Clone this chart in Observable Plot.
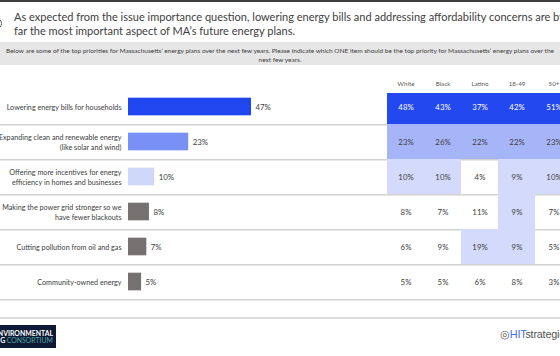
<!DOCTYPE html>
<html>
<head>
<meta charset="utf-8">
<script src="https://cdn.jsdelivr.net/npm/d3@7"></script>
<script src="https://cdn.jsdelivr.net/npm/@observablehq/plot@0.6"></script>
<style>
  body { margin: 0; background: #fff; }
  #page { position: relative; width: 560px; height: 356px; overflow: hidden; background: #fff; font-family: Lato, "Open Sans", sans-serif; }
  #topline { position: absolute; left: 0; top: 0; width: 560px; height: 2px; background: #3d3d3d; }
  #icon { position: absolute; left: -9px; top: 18px; width: 9px; height: 9px; border: 1.5px solid #555; border-radius: 50%; }
  #title { position: absolute; left: 14px; top: 10px; font-size: 11px; line-height: 14px; color: #404040; white-space: nowrap; }
  #question { position: absolute; left: -3px; top: 42px; width: 566px; height: 23px; background: #e7e6e6; }
  #question div { text-align: center; font-size: 6.5px; line-height: 9px; padding-top: 4px; color: #404040; white-space: nowrap; }
  .chart { position: absolute; left: 0; top: 65px; }
  #footline { position: absolute; left: 0; top: 317px; width: 560px; height: 1.5px; background: #dcdcdc; }
  #logo { position: absolute; left: 0; top: 325px; width: 56px; height: 23px; background: #0d1a35; overflow: hidden; }
  #logo div { position: absolute; right: 3px; font-size: 6.9px; line-height: 7px; font-weight: 700; color: #fff; white-space: nowrap; font-family: Lato, sans-serif; }
  #logo .l1 { top: 5px; }
  #logo .l2 { top: 11.5px; }
  #logo .teal { color: #4fa5a2; font-weight: 400; }
  #hit { position: absolute; left: 500px; top: 328px; font-size: 10.8px; font-family: "Liberation Sans", Arial, sans-serif; white-space: nowrap; color: #555; letter-spacing: -0.2px; }
  #hit .b { color: #3b6cf2; }
</style>
</head>
<body>
<div id="page">
  <div id="topline"></div>
  <div id="icon"></div>
  <div id="title">As expected from the issue importance question, lowering energy bills and addressing affordability concerns are by<br>far the most important aspect of MA’s future energy plans.</div>
  <div id="question"><div>Below are some of the top priorities for Massachusetts’ energy plans over the next few years. Please indicate which ONE item should be the top priority for Massachusetts’ energy plans over the<br>next few years.</div></div>
  <div id="left" class="chart"></div>
  <div id="right" class="chart"></div>
  <div id="footline"></div>
  <div id="logo"><div class="l1">ENVIRONMENTAL</div><div class="l2">POLLING <span class="teal">CONSORTIUM</span></div></div>
  <div id="hit">◎<span class="b">HIT</span>strategies</div>
</div>
<script>
// ---- data ----
const items = [
  "Lowering energy bills for households",
  "Expanding clean and renewable energy\n(like solar and wind)",
  "Offering more incentives for energy\nefficiency in homes and businesses",
  "Making the power grid stronger so we\nhave fewer blackouts",
  "Cutting pollution from oil and gas",
  "Community-owned energy"
];
const totals = [47, 23, 10, 8, 7, 5];
const groups = ["White", "Black", "Latino", "18-49", "50+"];
const whiteVals = [48, 23, 10, 8, 6, 5];
const blackVals = [43, 26, 10, 7, 9, 5];
const latinoVals = [37, 22, 4, 11, 19, 6];
const age1849Vals = [42, 22, 9, 9, 9, 8];
const age50Vals = [51, 23, 10, 7, 5, 3];

// dense rank (1 = highest) within a column
const rankOf = (v, arr) => new Set(arr.filter(x => x > v)).size + 1;

const barData = items.map((item, i) => ({
  item, value: totals[i], rank: String(Math.min(rankOf(totals[i], totals), 4))
}));
const columns = [whiteVals, blackVals, latinoVals, age1849Vals, age50Vals];
const cells = [];
groups.forEach((g, gi) => {
  const col = columns[gi];
  items.forEach((item, i) => {
    cells.push({group: g, item, row: i, value: col[i], rank: rankOf(col[i], col)});
  });
});
cells.forEach(d => d.rankS = String(d.rank));

// ---- layout ----
const H = 253, Y0 = 23, Y1 = 235;
const bw = (Y1 - Y0) / items.length;
const barH = 18;
const inset = (bw - barH) / 2;
const font = "Lato, 'Open Sans', sans-serif";

const left = Plot.plot({
  width: 560, height: H, margin: 0,
  style: {fontFamily: font, background: "transparent", overflow: "visible"},
  x: {domain: [0, 100], range: [128, 389.7], axis: null},
  y: {domain: items, range: [Y0, Y1], padding: 0, axis: null},
  color: {domain: ["1", "2", "3", "4"], range: ["#2046f0", "#7990f7", "#d0d8fa", "#767171"]},
  marks: [
    Plot.ruleY(items, {y: d => d, dy: bw / 2, stroke: "#d2d2d2", strokeWidth: 1.5}),
    Plot.barX(barData, {x: "value", y: "item", fill: "rank", insetTop: inset, insetBottom: inset}),
    Plot.text(barData, {x: "value", y: "item", text: d => d.value + "%", textAnchor: "start", dx: 4, fontSize: 7.8, fill: "#404040"}),
    Plot.text(barData, {x: 0, y: "item", text: "item", textAnchor: "end", dx: -7, lineHeight: 1.3, fontSize: 7.2, fill: "#404040"})
  ]
});
document.getElementById("left").appendChild(left);

const cellMain = cells.filter(d => d.rank <= 3 && d.row > 0);
const cellFirst = cells.filter(d => d.rank <= 3 && d.row === 0);
const right = Plot.plot({
  width: 560, height: H, margin: 0,
  style: {fontFamily: font, background: "transparent"},
  x: {domain: groups, range: [387, 572], padding: 0, axis: null},
  y: {domain: items, range: [Y0, Y1], padding: 0, axis: null},
  color: {domain: ["1", "2", "3"], range: ["#2348f0", "#a6b5f8", "#d3dafb"]},
  marks: [
    Plot.cell(cellMain, {x: "group", y: "item", fill: "rankS"}),
    Plot.cell(cellFirst, {x: "group", y: "item", fill: "rankS", insetTop: 4}),
    Plot.text(cells.filter(d => d.rank === 1), {x: "group", y: "item", text: d => d.value + "%", fill: "white", fontSize: 7.8}),
    Plot.text(cells.filter(d => d.rank !== 1), {x: "group", y: "item", text: d => d.value + "%", fill: "#404040", fontSize: 7.8}),
    Plot.text(groups, {x: d => d, frameAnchor: "top", dy: 16, text: d => d, fontSize: 6.2, fill: "#595959"})
  ]
});
document.getElementById("right").appendChild(right);
</script>
</body>
</html>
